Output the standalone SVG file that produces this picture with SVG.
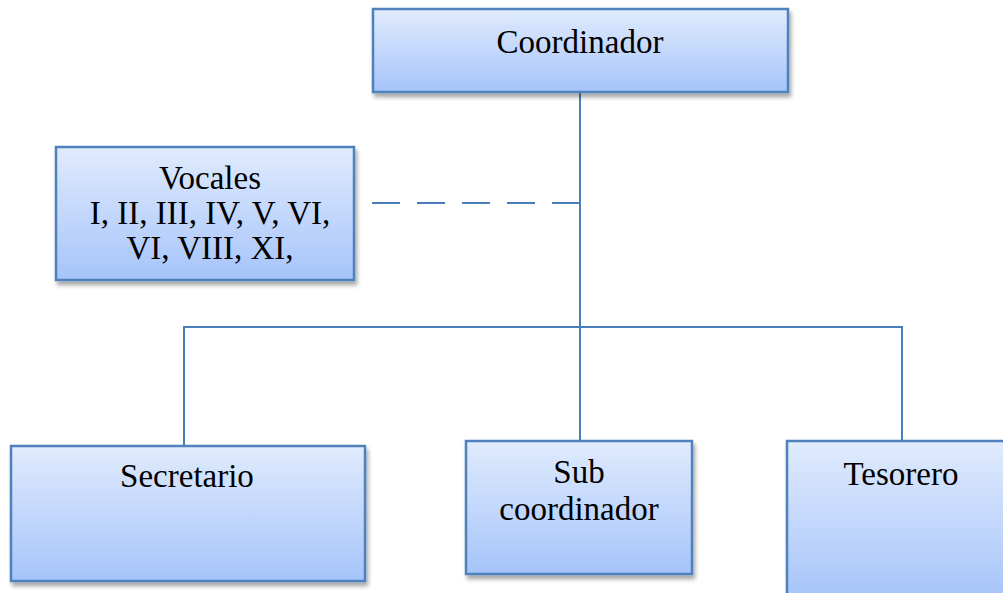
<svg xmlns="http://www.w3.org/2000/svg" width="1003" height="593" viewBox="0 0 1003 593">
<defs>
<linearGradient id="g" x1="0" y1="0" x2="0" y2="1">
<stop offset="0" stop-color="#e0ebfd"/>
<stop offset="1" stop-color="#a6c4fa"/>
</linearGradient>
<filter id="sh" x="-10%" y="-10%" width="130%" height="130%">
<feGaussianBlur in="SourceAlpha" stdDeviation="2"/>
<feOffset dx="2" dy="4" result="b"/>
<feComponentTransfer><feFuncA type="linear" slope="0.35"/></feComponentTransfer>
<feMerge><feMergeNode/><feMergeNode in="SourceGraphic"/></feMerge>
</filter>
</defs>
<style>
.box{fill:url(#g);stroke:#4f81bd;stroke-width:2.5;filter:url(#sh)}
.t{font-family:"Liberation Serif","Times New Roman",serif;font-size:33px;fill:#000;text-anchor:middle}
.c{stroke:#4a7ebb;stroke-width:2;fill:none}
</style>
<rect width="1003" height="593" fill="#fff"/>
<g id="connectors">
<path class="c" d="M580 92 V441"/>
<path class="c" d="M184 446 V327 H902 V449"/>
<path class="c" d="M580 203 H364" stroke-dasharray="28 17"/>
</g>
<g id="coordinador">
<rect class="box" x="373" y="9" width="415" height="83"/>
<text class="t" x="580" y="53">Coordinador</text>
</g>
<g id="vocales">
<rect class="box" x="56" y="147" width="298" height="133"/>
<text class="t" x="210" y="189">Vocales</text>
<text class="t" x="210" y="224">I, II, III, IV, V, VI,</text>
<text class="t" x="210" y="259">VI, VIII, XI,</text>
</g>
<g id="secretario">
<rect class="box" x="11" y="446" width="354" height="135"/>
<text class="t" x="187" y="487">Secretario</text>
</g>
<g id="subcoordinador">
<rect class="box" x="466" y="441" width="226" height="133"/>
<text class="t" x="579" y="483">Sub</text>
<text class="t" x="579" y="520">coordinador</text>
</g>
<g id="tesorero">
<rect class="box" x="787" y="441" width="230" height="160"/>
<text class="t" x="901" y="485">Tesorero</text>
</g>
</svg>
